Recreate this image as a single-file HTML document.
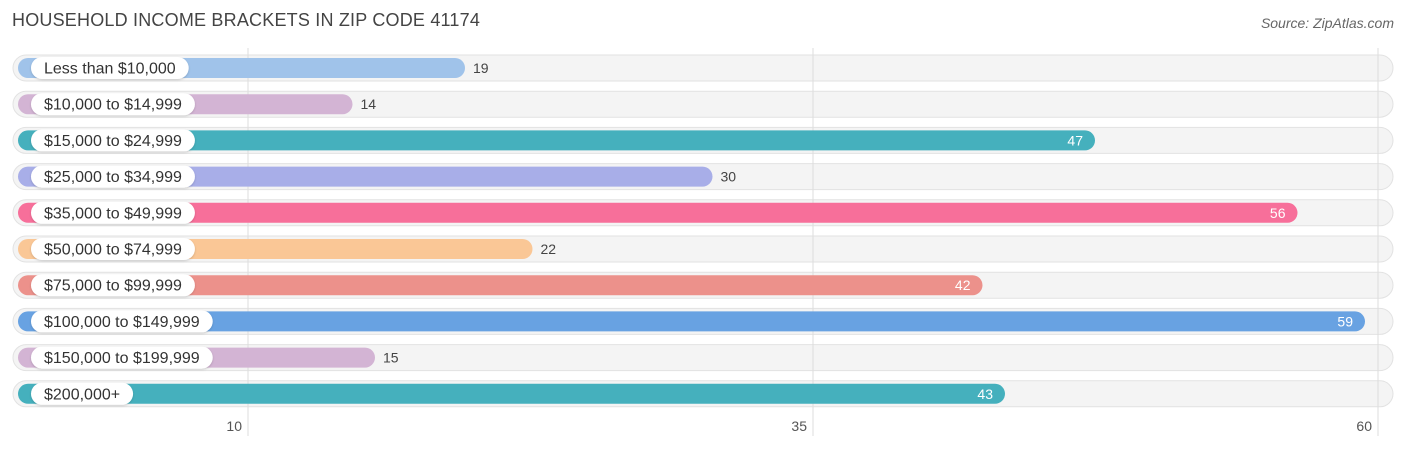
<!DOCTYPE html>
<html><head><meta charset="utf-8"><style>
body{margin:0;width:1406px;height:450px;background:#fff;font-family:"Liberation Sans",sans-serif;position:relative;overflow:hidden}
</style></head><body>
<div style="position:absolute;left:12px;top:10px;font-size:18px;color:#444;letter-spacing:0.2px">HOUSEHOLD INCOME BRACKETS IN ZIP CODE 41174</div>
<div style="position:absolute;right:12px;top:15px;font-size:14px;color:#666;font-style:italic">Source: ZipAtlas.com</div>
<svg id="chart" width="1406" height="450" style="position:absolute;left:0;top:0">
<defs><filter id="sh" x="-5%" y="-30%" width="110%" height="160%"><feDropShadow dx="0" dy="1" stdDeviation="1" flood-color="#000" flood-opacity="0.18"/></filter></defs>
</svg>
<script>
const categories=["Less than $10,000","$10,000 to $14,999","$15,000 to $24,999","$25,000 to $34,999","$35,000 to $49,999","$50,000 to $74,999","$75,000 to $99,999","$100,000 to $149,999","$150,000 to $199,999","$200,000+"];
const values=[19,14,47,30,56,22,42,59,15,43];
const colors=["#a0c3ea","#d3b4d4","#45b0bd","#a8aee8","#f76f9a","#fac796","#ec918b","#68a2e2","#d3b4d4","#45b0bd"];
const ticks=[10,35,60];
const NS="http://www.w3.org/2000/svg";
const svg=document.getElementById('chart');
function xBar(v){return 37.5+22.5*v;}
function xGrid(v){return 248+(v-10)*22.6;}
function yRow(i){return 68+i*36.2;}
function mk(t,a){const e=document.createElementNS(NS,t);for(const k in a)e.setAttribute(k,a[k]);svg.appendChild(e);return e;}
categories.forEach((c,i)=>{const y=yRow(i);
 const bg=mk('rect',{x:13,y:y-13,width:1380,height:26,rx:13,fill:'#f4f4f4',stroke:'#e2e2e2','stroke-width':1});
 });
ticks.forEach(t=>{const x=xGrid(t);
 const l=mk('line',{x1:x,x2:x,y1:48,y2:436,stroke:'#ddd','stroke-width':1});
 
 const tx=mk('text',{x:x-6,y:431,'font-size':14,fill:'#555','text-anchor':'end'});tx.textContent=t;
 });
categories.forEach((c,i)=>{const y=yRow(i),v=values[i],xe=xBar(v);
 const b=mk('rect',{x:18,y:y-10,width:xe-18,height:20,rx:10,fill:colors[i]});
 
 const lbl=mk('text',{x:44,y:y+5.5,'font-size':16,fill:'#333'});lbl.textContent=c;
 
 const w=lbl.getComputedTextLength();
 const p=mk('rect',{x:31,y:y-11,width:w+26,height:22,rx:11,fill:'#fff',filter:'url(#sh)'});
 
 svg.insertBefore(p,lbl);
 const inside=v>35;
 const vt=mk('text',{x:inside?xe-12:xe+8,y:y+5,'font-size':14,fill:inside?'#fff':'#444','text-anchor':inside?'end':'start'});
 vt.textContent=v;
});
</script>
</body></html>
